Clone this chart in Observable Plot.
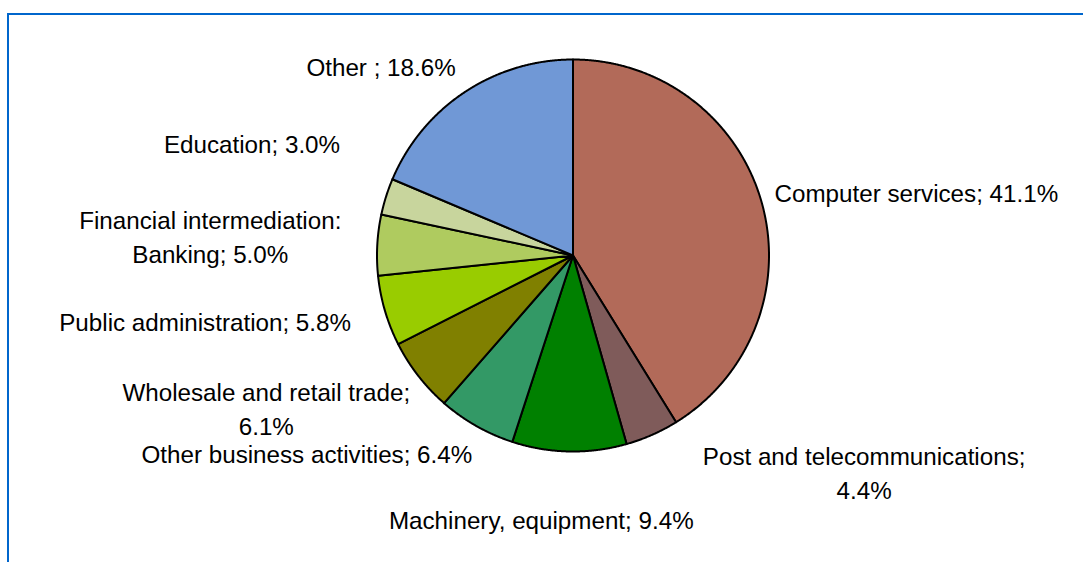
<!DOCTYPE html>
<html>
<head>
<meta charset="utf-8">
<script src="https://cdn.jsdelivr.net/npm/d3@7"></script>
<script src="https://cdn.jsdelivr.net/npm/@observablehq/plot@0.6"></script>
<style>
  html, body { margin: 0; padding: 0; background: #fff; overflow: hidden; }
  #wrap { position: relative; width: 1083px; height: 562px; overflow: hidden; }
  #frame { position: absolute; left: 7px; top: 13px; width: 1200px; height: 700px;
           border-left: 2px solid #0066CC; border-top: 2px solid #0066CC; pointer-events: none; }
</style>
</head>
<body>
<div id="wrap"><div id="frame"></div></div>
<script>
// ---- data ----
const categories = ["Computer services", "Post and telecommunications", "Machinery, equipment",
  "Other business activities", "Wholesale and retail trade", "Public administration",
  "Financial intermediation: Banking", "Education", "Other"];
const shares = [41.1, 4.4, 9.4, 6.4, 6.1, 5.8, 5.0, 3.0, 18.6];
const labels = ["Computer services; 41.1%", "Post and telecommunications;\n4.4%",
  "Machinery, equipment; 9.4%", "Other business activities; 6.4%",
  "Wholesale and retail trade;\n6.1%", "Public administration; 5.8%",
  "Financial intermediation:\nBanking; 5.0%", "Education; 3.0%", "Other ; 18.6%"];
const colors = ["#B26A59", "#7F5B5A", "#008000", "#339966", "#808000", "#99CC00",
  "#AFCB5F", "#C8D59D", "#7098D6"];

// ---- label layout (pixel nudges from the slice's outer mid point) ----
const labelAnchor = ["start", "middle", "middle", "end", "middle", "end", "middle", "end", "end"];
const labelNudge = [[13, -11], [212, 36], [-28, 67], [-4, 26], [-152, 31], [-34, 9], [-167, -10], [-46, -54], [-9, -27]];

const R = 196; // pixels per unit radius
const W = 1083, H = 562;
const cx = 572.5, cy = 255;

const arcs = d3.pie().sort(null)(shares);

const slicePts = arcs.flatMap((a, i) => {
  const n = Math.max(2, Math.ceil((a.endAngle - a.startAngle) / 0.004));
  const pts = [{cat: categories[i], x: 0, y: 0}];
  for (let k = 0; k <= n; k++) {
    const t = a.startAngle + (a.endAngle - a.startAngle) * k / n;
    pts.push({cat: categories[i], x: Math.sin(t), y: Math.cos(t)});
  }
  pts.push({cat: categories[i], x: 0, y: 0});
  return pts;
});

const labelData = arcs.map((a, i) => {
  const m = (a.startAngle + a.endAngle) / 2;
  return {
    text: labels[i],
    anchor: labelAnchor[i],
    x: Math.sin(m) + labelNudge[i][0] / R,
    y: Math.cos(m) - labelNudge[i][1] / R
  };
});

const textMarks = ["start", "middle", "end"].map(an =>
  Plot.text(labelData.filter(d => d.anchor === an), {
    x: "x", y: "y", text: "text", textAnchor: an, lineAnchor: "middle",
    lineHeight: 1.4, fontSize: 24.2, fill: "black"
  })
);

const chart = Plot.plot({
  width: W, height: H,
  marginLeft: cx - R, marginRight: W - cx - R,
  marginTop: cy - R, marginBottom: H - cy - R,
  x: {domain: [-1, 1], axis: null},
  y: {domain: [-1, 1], axis: null},
  color: {domain: categories, range: colors},
  style: {fontFamily: "'Liberation Sans', Arial, sans-serif", background: "transparent", overflow: "visible"},
  marks: [
    Plot.line(slicePts, {x: "x", y: "y", z: "cat", fill: "cat", stroke: "black",
      strokeWidth: 2, strokeLinejoin: "round", curve: "linear"}),
    ...textMarks
  ]
});
const wrap = document.getElementById("wrap");
wrap.insertBefore(chart, wrap.firstChild);
</script>
</body>
</html>
